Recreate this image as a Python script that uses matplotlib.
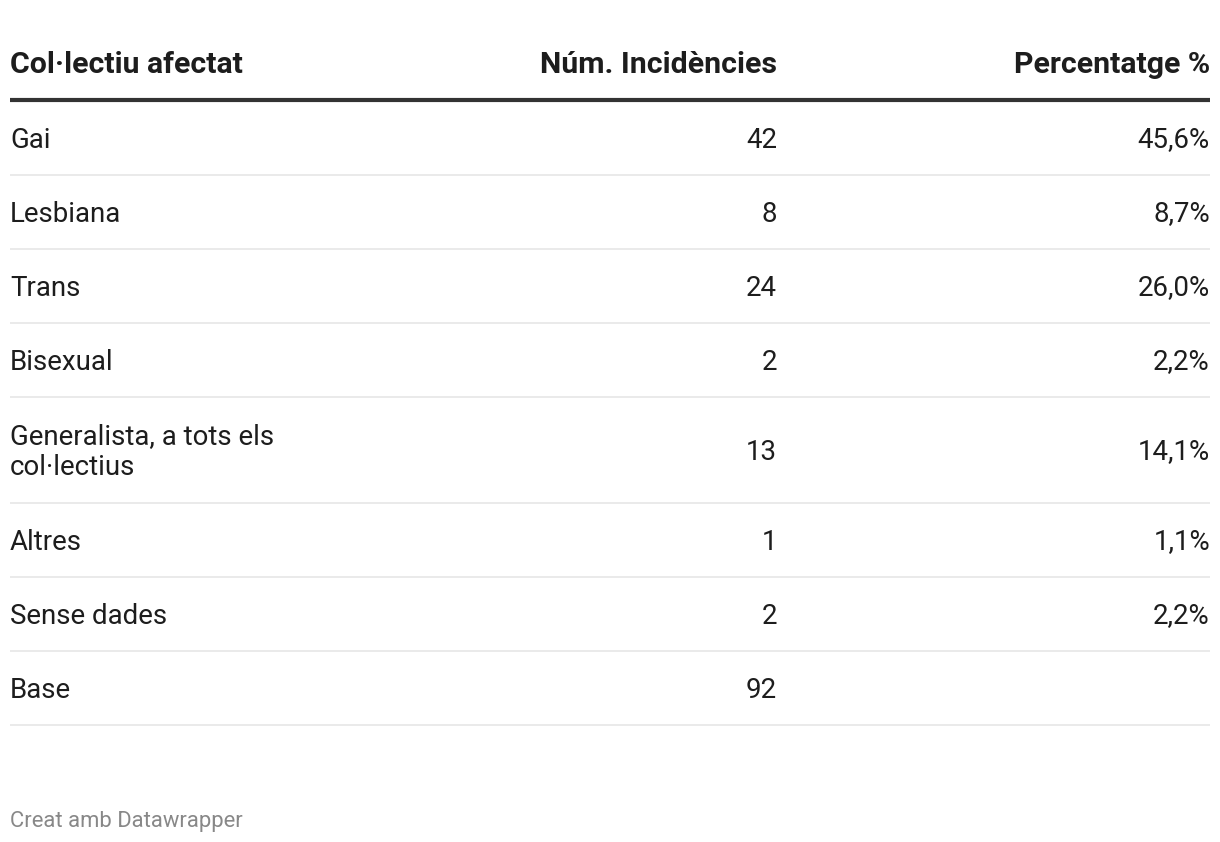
import matplotlib
matplotlib.use("Agg")
import matplotlib.pyplot as plt

plt.rcParams["font.family"] = ["Roboto", "DejaVu Sans"]

# table data
headers = ["Col·lectiu afectat", "Núm. Incidències", "Percentatge %"]
groups = [
    "Gai",
    "Lesbiana",
    "Trans",
    "Bisexual",
    "Generalista, a tots els\ncol·lectius",
    "Altres",
    "Sense dades",
    "Base",
]
counts = ["42", "8", "24", "2", "13", "1", "2", "92"]
percents = ["45,6%", "8,7%", "26,0%", "2,2%", "14,1%", "1,1%", "2,2%", ""]
footer = "Creat amb Datawrapper"

W, H = 1220, 842
fig = plt.figure(figsize=(W / 100, H / 100), dpi=100)
ax = fig.add_axes([0, 0, 1, 1])
ax.set_xlim(0, W)
ax.set_ylim(H, 0)
ax.axis("off")

x_left, x_mid, x_right = 10, 777, 1210
text_col = "#1d1d1d"
hsize, bsize = 21.8, 19.9

ax.text(x_left, 65, headers[0], ha="left", va="center", fontsize=hsize,
        fontweight="bold", color=text_col)
ax.text(x_mid, 65, headers[1], ha="right", va="center", fontsize=hsize,
        fontweight="bold", color=text_col)
ax.text(x_right, 65, headers[2], ha="right", va="center", fontsize=hsize,
        fontweight="bold", color=text_col)
ax.plot([x_left, x_right], [100, 100], color="#333333", lw=3,
        solid_capstyle="butt")

y = 101
for g, c, p in zip(groups, counts, percents):
    h = 106 if "\n" in g else 74
    yc = y + h / 2 + 2
    ax.text(x_left, yc, g, ha="left", va="center", fontsize=bsize,
            color=text_col, linespacing=1.17)
    ax.text(x_mid, yc, c, ha="right", va="center", fontsize=bsize,
            color=text_col)
    ax.text(x_right, yc, p, ha="right", va="center", fontsize=bsize,
            color=text_col)
    y += h
    ax.plot([x_left, x_right], [y, y], color="#e6e6e6", lw=1.2,
            solid_capstyle="butt")

ax.text(x_left, 821, footer, ha="left", va="center", fontsize=15.8,
        color="#888888")

fig.savefig("out.png", dpi=100)
